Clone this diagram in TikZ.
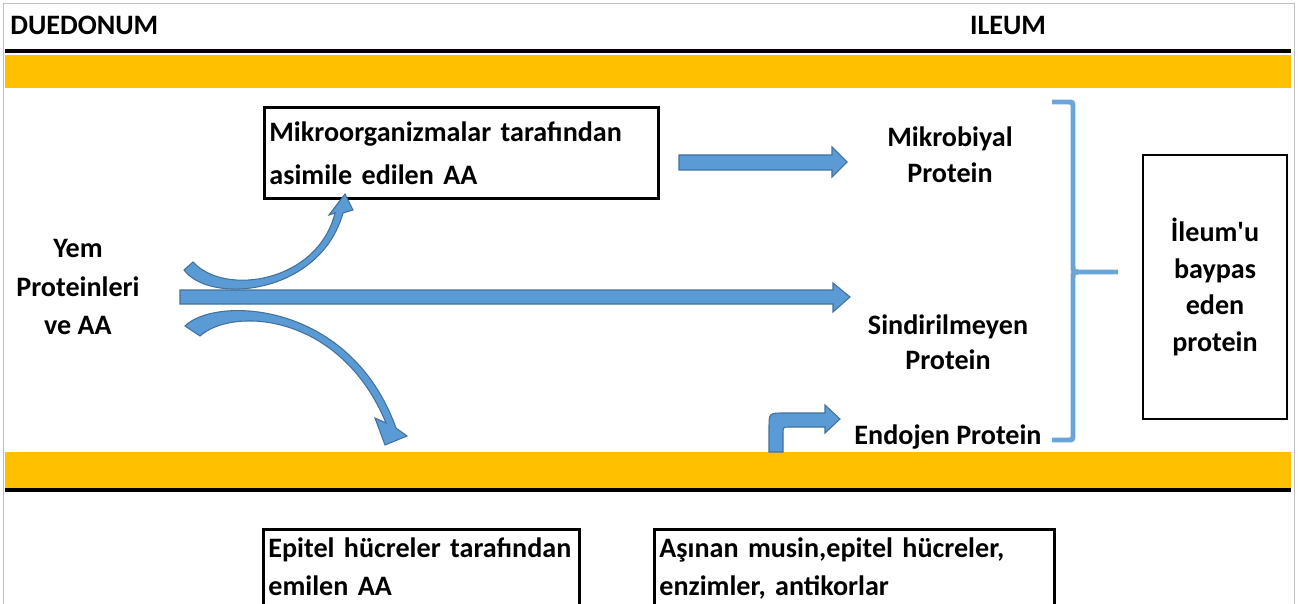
\documentclass[tikz,border=0pt]{standalone}
\usepackage{fontspec}
\setmainfont{Carlito}
\usetikzlibrary{positioning}
\definecolor{bandyellow}{HTML}{FFC000}
\definecolor{arrowfill}{HTML}{5B9BD5}
\definecolor{arrowline}{HTML}{41719C}
\definecolor{bracecol}{HTML}{6AA5DA}

\begin{document}
\begin{tikzpicture}
	[x=0.02cm,y=-0.02cm,
	every node/.style={font=\fontsize{16}{21}\selectfont\bfseries,inner sep=0pt},
	txtbox/.style={draw,line width=1.6pt,anchor=north west,align=left,inner xsep=0.1cm},
	blockarrow/.style={fill=arrowfill,draw=arrowline,line width=0.6pt},
	brace/.style={draw=bracecol,line width=2.8pt}]
	\clip (0,0) rectangle (1300,604);
	\fill[white] (0,0) rectangle (1300,604);
	\draw[black!25] (3,3) rectangle (1294,650);
	% bowel walls
	\foreach \ytop/\ybot/\yline in {55/88/51, 452/488/490}
	{
		\fill[bandyellow] (5,\ytop) rectangle (1291,\ybot);
		\draw[line width=2.4pt] (5,\yline) -- (1291,\yline);
	}
	\node[anchor=west] (duo) at (10,25) {DUEDONUM};
	\node (ileum) at (1008,25) {ILEUM};
	% feed
	\node[align=center,font=\fontsize{16}{21.8}\selectfont\bfseries] (yem) at (78,287) {Yem\\Proteinleri\\ve AA};
	\node[txtbox,text width=7.68cm,minimum height=1.82cm,
		font=\fontsize{16}{24.4}\selectfont\bfseries] (mikroaa) at (263,106)
		{Mikroorganizmalar tarafından\\asimile edilen AA};
	\node[align=center,font=\fontsize{16}{20.4}\selectfont\bfseries] (mikrop) at (950,155) {Mikrobiyal\\Protein};
	\node[align=center,font=\fontsize{16}{20}\selectfont\bfseries] (sindi) at (948,342) {Sindirilmeyen\\Protein};
	\node (endo) at (948,437) {Endojen Protein};
	\node[draw,line width=1.6pt,minimum width=2.88cm,minimum height=5.28cm,align=center,
		font=\fontsize{16}{21}\selectfont\bfseries] (baypas) at (1215,287)
		{İleum\textquotesingle u\\baypas\\eden\\protein};
	% lower boxes
	\node[txtbox,text width=6.12cm,inner ysep=5pt,
		font=\fontsize{16}{21.5}\selectfont\bfseries] (epitel) at (262,528)
		{Epitel hücreler tarafından\\emilen AA\\~};
	\node[txtbox,text width=7.8cm,inner ysep=5pt,
		font=\fontsize{16}{21.5}\selectfont\bfseries] (musin) at (653,528)
		{Aşınan musin,epitel hücreler,\\enzimler, antikorlar\\~};
	% arrows
	\draw[blockarrow] (679,155) -- (832,155) -- (832,147) -- (847,162) -- (832,177)
		-- (832,170) -- (679,170) -- cycle;
	\draw[blockarrow] (180,290) -- (833,290) -- (833,283) -- (850,297) -- (833,312)
		-- (833,304) -- (180,304) -- cycle;
	\draw[blockarrow] (184,270) .. controls (210,305) and (320,295) .. (343,213)
		-- (353,210) -- (345,194) -- (329,215) -- (335,213)
		.. controls (318,282) and (225,297) .. (193,262) -- cycle;
	\draw[blockarrow] (185,326) .. controls (215,296) and (350,300) .. (396,428)
		-- (407,436) -- (385,445) -- (375,418) -- (386,423)
		.. controls (340,312) and (232,307) .. (200,336) -- cycle;
	\draw[blockarrow] (769,452) -- (769,428) .. controls (769,413) .. (784,413)
		-- (825,413) -- (825,405) -- (840,419) -- (825,433) -- (825,427) -- (790,427)
		.. controls (783,427) .. (783,434) -- (783,452) -- cycle;
	% brace
	\draw[brace] (1052,102) -- (1067,102) .. controls (1073,102) .. (1073,108)
		-- (1073,266) .. controls (1073,272) .. (1079,272) -- (1118,272);
	\draw[brace] (1079,272) .. controls (1073,272) .. (1073,278)
		-- (1073,434) .. controls (1073,440) .. (1067,440) -- (1052,440);
\end{tikzpicture}
\end{document}
